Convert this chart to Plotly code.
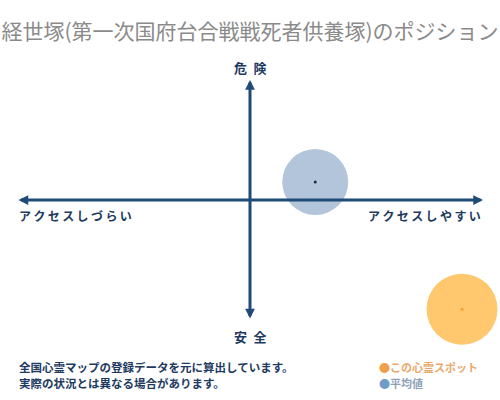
import plotly.graph_objects as go

# ---- data ----
title_text = "経世塚(第一次国府台合戦戦死者供養塚)のポジション"
series_names = ["この心霊スポット", "平均値"]
access_scores = [0.91, 0.28]      # x: -1 = アクセスしづらい, +1 = アクセスしやすい
danger_scores = [-0.91, 0.15]     # y: +1 = 危険, -1 = 安全
axis_labels = {"top": "危険", "bottom": "安全", "left": "アクセスしづらい", "right": "アクセスしやすい"}
notes = ["全国心霊マップの登録データを元に算出しています。", "実際の状況とは異なる場合があります。"]

NAVY = "#1f4b78"
LABEL = "#1e3a5f"
FONT = "Noto Sans CJK JP"

def spaced(s, sep=" "):
    return sep.join(list(s))

fig = go.Figure()

# bubbles
fig.add_trace(go.Scatter(
    x=[access_scores[1]], y=[danger_scores[1]], mode="markers",
    marker=dict(size=66, color="#b2c5da", line=dict(width=0)),
    name=series_names[1], hoverinfo="skip", cliponaxis=False))
fig.add_trace(go.Scatter(
    x=[access_scores[0]], y=[danger_scores[0]], mode="markers",
    marker=dict(size=71, color="#ffc86e", line=dict(width=0)),
    name=series_names[0], hoverinfo="skip", cliponaxis=False))
# centre dots
fig.add_trace(go.Scatter(
    x=access_scores, y=danger_scores, mode="markers",
    marker=dict(size=3, color=["#f2a033", "#1a2a40"]),
    hoverinfo="skip", cliponaxis=False))

ann = []
# axes arrows
ann.append(dict(x=1, y=0, ax=-1, ay=0, xref="x", yref="y", axref="x", ayref="y",
                showarrow=True, arrowhead=2, arrowsize=0.65, arrowwidth=3,
                arrowside="end+start", arrowcolor=NAVY, text=""))
ann.append(dict(x=0, y=1.0, ax=0, ay=-1.0, xref="x", yref="y", axref="x", ayref="y",
                showarrow=True, arrowhead=2, arrowsize=0.65, arrowwidth=3,
                arrowside="end+start", arrowcolor=NAVY, text=""))

# axis labels
ann.append(dict(x=0.5, y=1.054, xref="paper", yref="paper", showarrow=False,
                text="<b>" + spaced(axis_labels["top"], "\u2002") + "</b>",
                font=dict(family=FONT, size=13, color=LABEL), xanchor="center", yanchor="middle"))
ann.append(dict(x=0.5, y=-0.067, xref="paper", yref="paper", showarrow=False,
                text="<b>" + spaced(axis_labels["bottom"], "\u2002") + "</b>",
                font=dict(family=FONT, size=13, color=LABEL), xanchor="center", yanchor="middle"))
ann.append(dict(x=-1, y=-0.125, xref="x", yref="y", showarrow=False,
                text="<b>" + spaced(axis_labels["left"], "\u2009") + "</b>",
                font=dict(family=FONT, size=12, color=LABEL), xanchor="left", yanchor="middle"))
ann.append(dict(x=1, y=-0.125, xref="x", yref="y", showarrow=False,
                text="<b>" + spaced(axis_labels["right"], "\u2009") + "</b>",
                font=dict(family=FONT, size=12, color=LABEL), xanchor="right", yanchor="middle"))

# notes
for i, t in enumerate(notes):
    ann.append(dict(x=0.0, y=-0.196 - i * 0.0665, xref="paper", yref="paper", showarrow=False,
                    text="<b>" + t + "</b>", font=dict(family=FONT, size=11.5, color=LABEL),
                    xanchor="left", yanchor="middle"))

# legend
leg_colors = [("#f0a04b", "#e8a86c"), ("#6f9cc4", "#8ea3bb")]
for i, (name, (dc, tc)) in enumerate(zip(series_names, leg_colors)):
    ann.append(dict(x=0.772, y=-0.196 - i * 0.0665, xref="paper", yref="paper", showarrow=False,
                    text=f"<span style='color:{dc}'>●</span><b>{name}</b>",
                    font=dict(family=FONT, size=11, color=tc),
                    xanchor="left", yanchor="middle"))

fig.update_layout(
    width=500, height=400,
    margin=dict(l=17, r=17, t=80, b=80),
    paper_bgcolor="white", plot_bgcolor="white",
    showlegend=False,
    title=dict(text=title_text, x=0.5, xanchor="center", y=0.922, yanchor="middle",
               font=dict(family=FONT, size=21, color="#8a8a8a")),
    xaxis=dict(range=[-1, 1], visible=False, fixedrange=True),
    yaxis=dict(range=[-1, 1], visible=False, fixedrange=True),
    annotations=ann,
)

fig.write_html("out.html", config={"displayModeBar": False},
               post_script="document.body.style.margin='0';document.body.style.overflow='hidden';")
